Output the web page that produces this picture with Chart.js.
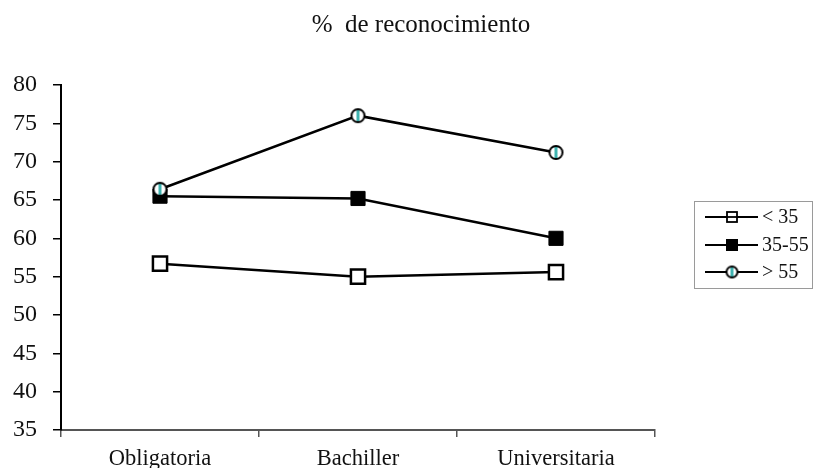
<!DOCTYPE html>
<html>
<head>
<meta charset="utf-8">
<script src="https://cdn.jsdelivr.net/npm/chart.js@4/dist/chart.umd.min.js"></script>
<style>
  html, body { margin: 0; padding: 0; background: #fff; }
  #wrap { width: 818px; height: 468px; }
</style>
</head>
<body>
<div id="wrap"><canvas id="c" width="818" height="468"></canvas></div>
<script>
// Nivel de estudios
const categories = ['Obligatoria', 'Bachiller', 'Universitaria'];
// Porcentaje de reconocimiento por grupo de edad
const seriesLabels = ['< 35', '35-55', '> 55'];
const menos35 = [56.7, 55.0, 55.6];
const de35a55 = [65.5, 65.2, 60.0];
const mas55 = [66.4, 76.0, 71.2];
const yTicks = [35, 40, 45, 50, 55, 60, 65, 70, 75, 80];
const chartTitle = '%  de reconocimiento';

const SERIF = '"Liberation Serif", "Times New Roman", serif';

// Circle marker with a teal stripe
function stripedCircle(r) {
  const s = Math.ceil(r * 2 + 4);
  const cv = document.createElement('canvas');
  cv.width = s; cv.height = s;
  const g = cv.getContext('2d');
  const c = s / 2;
  g.beginPath();
  g.arc(c, c, r, 0, Math.PI * 2);
  g.fillStyle = '#fff';
  g.fill();
  g.save();
  g.clip();
  g.fillStyle = '#3fb3b0';
  g.fillRect(c - 1.5, 0, 3, s);
  g.restore();
  g.beginPath();
  g.arc(c, c, r, 0, Math.PI * 2);
  g.lineWidth = 2;
  g.strokeStyle = '#000';
  g.stroke();
  return cv;
}
const circleMark = stripedCircle(6.5);
const circleMarkSmall = stripedCircle(5.5);

// Title and boxed legend drawn beside the plot
const sidePlugin = {
  id: 'side',
  afterDraw(chart) {
    const ctx = chart.ctx;
    ctx.save();
    ctx.fillStyle = '#111';
    ctx.font = '25px ' + SERIF;
    ctx.textAlign = 'center';
    ctx.textBaseline = 'alphabetic';
    ctx.fillText(chartTitle, 421, 32);

    const bx = 694.5, by = 201.5, bw = 118, bh = 87;
    ctx.strokeStyle = '#9a9a9a';
    ctx.lineWidth = 1;
    ctx.strokeRect(bx, by, bw, bh);

    const rows = [217, 245, 272];
    chart.data.datasets.forEach((ds, i) => {
      const y = rows[i];
      ctx.beginPath();
      ctx.moveTo(705, y);
      ctx.lineTo(758, y);
      ctx.strokeStyle = '#000';
      ctx.lineWidth = 2;
      ctx.stroke();
      const mx = 732;
      if (i === 0) {
        ctx.fillStyle = '#fff';
        ctx.fillRect(mx - 5, y - 5, 10, 10);
        ctx.lineWidth = 1.8;
        ctx.strokeRect(mx - 5, y - 5, 10, 10);
        ctx.beginPath();
        ctx.moveTo(mx - 5, y); ctx.lineTo(mx + 5, y);
        ctx.stroke();
      } else if (i === 1) {
        ctx.fillStyle = '#000';
        ctx.fillRect(mx - 6, y - 6, 12, 12);
      } else {
        ctx.drawImage(circleMarkSmall, mx - circleMarkSmall.width / 2, y - circleMarkSmall.height / 2);
      }
      ctx.fillStyle = '#111';
      ctx.font = '20px ' + SERIF;
      ctx.textAlign = 'left';
      ctx.textBaseline = 'middle';
      ctx.fillText(ds.label, 762, y + 1);
    });
    ctx.restore();
  }
};

new Chart(document.getElementById('c'), {
  type: 'line',
  data: {
    labels: categories,
    datasets: [
      {
        label: seriesLabels[0], data: menos35, order: 2,
        borderColor: '#000', borderWidth: 2.5,
        pointStyle: 'rect', pointRadius: 10, pointHoverRadius: 10,
        pointBackgroundColor: '#fff', pointBorderColor: '#000', pointBorderWidth: 2.5
      },
      {
        label: seriesLabels[1], data: de35a55, order: 1,
        borderColor: '#000', borderWidth: 2.5,
        pointStyle: 'rect', pointRadius: 10, pointHoverRadius: 10,
        pointBackgroundColor: '#000', pointBorderColor: '#000', pointBorderWidth: 1
      },
      {
        label: seriesLabels[2], data: mas55, order: 0,
        borderColor: '#000', borderWidth: 2.5,
        pointStyle: circleMark, pointRadius: 7, pointHoverRadius: 7
      }
    ]
  },
  options: {
    responsive: false,
    animation: false,
    devicePixelRatio: 1,
    layout: { padding: { top: 85, right: 163, bottom: 0, left: 0 } },
    plugins: {
      legend: { display: false },
      title: { display: false },
      tooltip: { enabled: false }
    },
    scales: {
      x: {
        offset: true,
        afterFit(scale) { scale.height = 38; },
        grid: {
          offset: true, drawOnChartArea: false, drawTicks: true,
          tickLength: 7, color: '#555', lineWidth: 1.5
        },
        border: { display: true, color: '#555', width: 2 },
        ticks: {
          color: '#111', padding: 9,
          font: { family: SERIF, size: 22.5 }
        }
      },
      y: {
        min: 35, max: 80,
        afterFit(scale) { scale.width = 61; },
        afterBuildTicks(scale) { scale.ticks = yTicks.map(v => ({ value: v })); },
        grid: {
          drawOnChartArea: false, drawTicks: true,
          tickLength: 8, color: '#000', lineWidth: 1.5
        },
        border: { display: true, color: '#000', width: 2 },
        ticks: {
          color: '#111', padding: 16,
          font: { family: SERIF, size: 24 }
        }
      }
    }
  },
  plugins: [sidePlugin]
});
</script>
</body>
</html>
